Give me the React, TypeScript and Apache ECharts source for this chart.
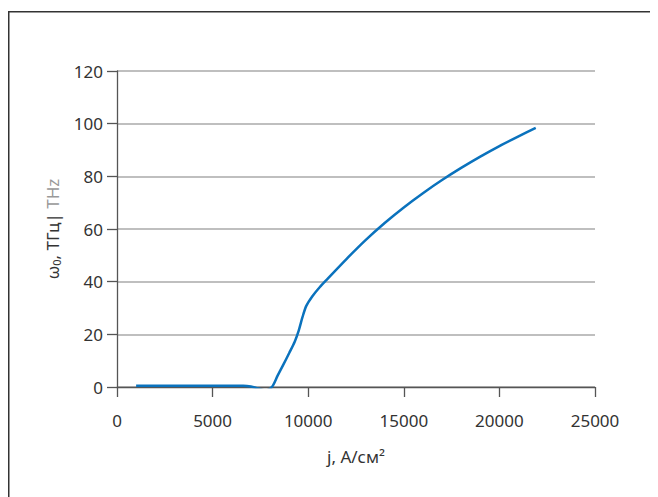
import React, { useEffect, useRef } from "react";
import * as echarts from "echarts";

const jValues = [1000, 2000, 3000, 4000, 5000, 6000, 6600, 7000, 7400, 7750, 8100, 8400, 8700, 9000, 9300, 9500, 9700, 9900, 10200, 10600, 11000, 12000, 13000, 14000, 15000, 16000, 17000, 18000, 19000, 20000, 21000, 21900];
const omegaValues = [0.5, 0.5, 0.5, 0.5, 0.5, 0.5, 0.5, 0.2, -0.6, -1.3, 0, 4.3, 8.5, 12.8, 17.3, 21.3, 26.5, 30.8, 34.3, 37.9, 41.0, 48.6, 55.8, 62.3, 68.2, 73.6, 78.6, 83.2, 87.5, 91.5, 95.2, 98.4];
const xTicks = [0, 25000, 5000];
const yTicks = [0, 120, 20];

export default function App() {
  const ref = useRef<HTMLDivElement>(null);
  useEffect(() => {
    if (!ref.current) return;
    const chart = echarts.init(ref.current, undefined, { renderer: "svg" });
    const font = "Noto Sans";
    chart.setOption({
      animation: false,
      graphic: [
        { type: "line", shape: { x1: 0.75, y1: 3, x2: 0.75, y2: 489 }, style: { stroke: "#333", lineWidth: 1.5 } },
        { type: "line", shape: { x1: 0, y1: 3.75, x2: 650, y2: 3.75 }, style: { stroke: "#333", lineWidth: 1.5 } },
      ],
      grid: { left: 109, right: 63, top: 63, bottom: 110 },
      xAxis: {
        type: "value",
        min: xTicks[0],
        max: xTicks[1],
        interval: xTicks[2],
        name: "j, А/см²",
        nameLocation: "middle",
        nameGap: 61,
        nameTextStyle: { fontFamily: font, fontSize: 17, color: "#333" },
        axisLine: { show: true, onZero: false, lineStyle: { color: "#555", width: 1.3 } },
        axisTick: { show: true, length: 10, inside: false, lineStyle: { color: "#555", width: 1.3 } },
        axisLabel: { fontFamily: font, fontSize: 17, color: "#333", margin: 25, formatter: (v: number) => String(v) },
        splitLine: { show: false },
      },
      yAxis: {
        type: "value",
        min: yTicks[0],
        max: yTicks[1],
        interval: yTicks[2],
        name: "{a|ω}{s|0}{a|, ТГц| }{b|THz}",
        nameLocation: "middle",
        nameGap: 55,
        nameTextStyle: {
          fontFamily: font,
          fontSize: 17,
          color: "#333",
          rich: {
            a: { fontFamily: font, fontSize: 17, color: "#333" },
            s: { fontFamily: font, fontSize: 11, color: "#333", verticalAlign: "bottom", padding: [9, 0, 0, 0] },
            b: { fontFamily: font, fontSize: 17, color: "#999" },
          },
        },
        axisLine: { show: true, onZero: false, lineStyle: { color: "#555", width: 1.3 } },
        axisTick: { show: true, length: 10, inside: false, lineStyle: { color: "#555", width: 1.3 } },
        axisLabel: { fontFamily: font, fontSize: 17, color: "#333", margin: 14, formatter: (v: number) => String(v) },
        splitLine: { show: true, lineStyle: { color: "#aaa", width: 1.5 } },
      },
      series: [
        {
          type: "line",
          data: jValues.map((j, i) => [j, omegaValues[i]]),
          smooth: 0.3,
          showSymbol: false,
          symbol: "none",
          lineStyle: { color: "#0a72bd", width: 2.5 },
        },
      ],
    });
    return () => chart.dispose();
  }, []);
  return <div ref={ref} style={{ width: 650, height: 489 }} />;
}
